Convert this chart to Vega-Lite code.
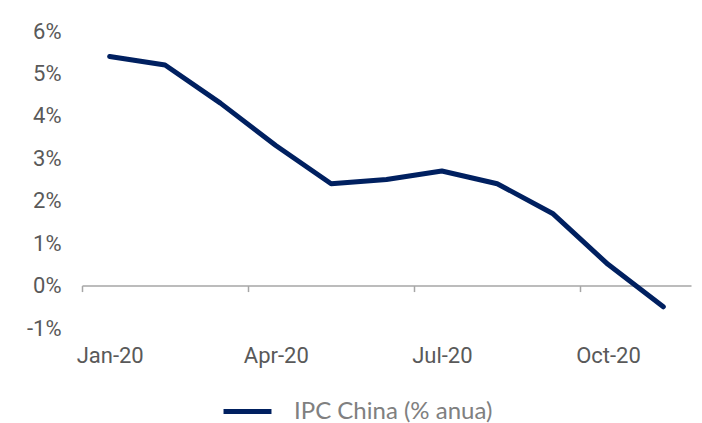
{
  "$schema": "https://vega.github.io/schema/vega-lite/v6.json",
  "autosize": {"type": "none"},
  "padding": {"left": 82, "top": 31, "right": 11, "bottom": 95},
  "width": 609,
  "height": 297,
  "background": "white",
  "data": {
    "values": [
      {"mes": "Jan-20", "serie": "IPC China (% anua)", "valor": 5.4},
      {"mes": "Feb-20", "serie": "IPC China (% anua)", "valor": 5.2},
      {"mes": "Mar-20", "serie": "IPC China (% anua)", "valor": 4.3},
      {"mes": "Apr-20", "serie": "IPC China (% anua)", "valor": 3.3},
      {"mes": "May-20", "serie": "IPC China (% anua)", "valor": 2.4},
      {"mes": "Jun-20", "serie": "IPC China (% anua)", "valor": 2.5},
      {"mes": "Jul-20", "serie": "IPC China (% anua)", "valor": 2.7},
      {"mes": "Aug-20", "serie": "IPC China (% anua)", "valor": 2.4},
      {"mes": "Sep-20", "serie": "IPC China (% anua)", "valor": 1.7},
      {"mes": "Oct-20", "serie": "IPC China (% anua)", "valor": 0.5},
      {"mes": "Nov-20", "serie": "IPC China (% anua)", "valor": -0.5}
    ]
  },
  "mark": {"type": "line", "strokeWidth": 5, "strokeCap": "round", "strokeJoin": "round"},
  "encoding": {
    "x": {
      "field": "mes",
      "type": "ordinal",
      "sort": null,
      "bandPosition": 0.5,
      "scale": {"type": "band", "paddingInner": 0, "paddingOuter": 0},
      "axis": {
        "title": null,
        "values": ["Jan-20", "Apr-20", "Jul-20", "Oct-20"],
        "labelAngle": 0,
        "offset": -42.43,
        "tickOffset": -27.68,
        "labelOffset": 27.68,
        "tickSize": 6,
        "tickWidth": 1.5,
        "tickColor": "#a6a6a6",
        "domainColor": "#a6a6a6",
        "domainWidth": 1.5,
        "labelPadding": 64,
        "labelFont": "Roboto",
        "labelFontSize": 22,
        "labelColor": "#595959",
        "labelBaseline": "middle"
      }
    },
    "y": {
      "field": "valor",
      "type": "quantitative",
      "scale": {"domain": [-1, 6], "nice": false, "zero": false},
      "axis": {
        "title": null,
        "values": [-1, 0, 1, 2, 3, 4, 5, 6],
        "labelExpr": "datum.value + '%'",
        "domain": false,
        "ticks": false,
        "grid": false,
        "labelPadding": 21,
        "labelFont": "Roboto",
        "labelFontSize": 22,
        "labelColor": "#595959"
      }
    },
    "color": {
      "field": "serie",
      "type": "nominal",
      "scale": {"range": ["#002060"]},
      "legend": {
        "title": null,
        "orient": "none",
        "legendX": 139,
        "legendY": 354,
        "padding": 0,
        "direction": "horizontal",
        "symbolType": "stroke",
        "symbolSize": 2300,
        "symbolStrokeWidth": 5,
        "labelFont": "Lato",
        "labelFontSize": 24,
        "labelLimit": 400,
        "labelColor": "#808080",
        "labelOffset": 20
      }
    }
  },
  "config": {"view": {"stroke": null}}
}
